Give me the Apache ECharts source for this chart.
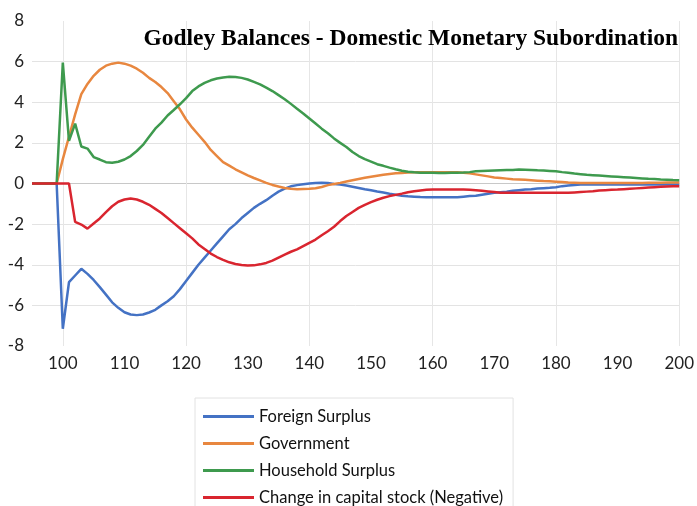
<!DOCTYPE html>
<html>
<head>
<meta charset="utf-8">
<script src="https://cdn.jsdelivr.net/npm/echarts@6/dist/echarts.min.js"></script>
<style>
html,body{margin:0;padding:0;background:#fff;}
#chart{width:697px;height:506px;}
</style>
</head>
<body>
<div id="chart"></div>
<script>
// Periods 95..200
const periodStart = 95;
const periodEnd = 200;
const xTickLabels = [100, 110, 120, 130, 140, 150, 160, 170, 180, 190, 200];
const yTickLabels = [-8, -6, -4, -2, 0, 2, 4, 6, 8];

const seriesNames = ['Foreign Surplus', 'Government', 'Household Surplus', 'Change in capital stock (Negative)'];

// values for periods 95..200 (106 values each)
const foreignSurplus = [
  0, 0, 0, 0, 0,                                   // 95-99
  -7.15, -4.86, -4.53, -4.2, -4.45, -4.75, -5.1, -5.47, -5.85, -6.12, // 100-109
  -6.34, -6.45, -6.48, -6.45, -6.35, -6.22, -6.0, -5.8, -5.55, -5.2,  // 110-119
  -4.8, -4.4, -4.0, -3.65, -3.3, -2.95, -2.6, -2.25, -2.0, -1.7,      // 120-129
  -1.45, -1.2, -1.0, -0.82, -0.6, -0.4, -0.25, -0.14, -0.08, -0.04,   // 130-139
  0, 0.03, 0.04, 0.02, -0.02, -0.05, -0.1, -0.16, -0.22, -0.28,       // 140-149
  -0.33, -0.39, -0.44, -0.5, -0.55, -0.6, -0.63, -0.65, -0.67, -0.68, // 150-159
  -0.68, -0.68, -0.68, -0.68, -0.68, -0.65, -0.62, -0.6, -0.55, -0.5, // 160-169
  -0.46, -0.43, -0.4, -0.36, -0.33, -0.3, -0.28, -0.25, -0.23, -0.21, // 170-179
  -0.18, -0.13, -0.1, -0.07, -0.05, -0.05, -0.05, -0.05, -0.05, -0.05,// 180-189
  -0.05, -0.05, -0.05, -0.05, -0.05, -0.05, -0.05, -0.05, -0.05, -0.05,// 190-199
  -0.05                                            // 200
];
const government = [
  0, 0, 0, 0, 0,
  1.2, 2.3, 3.4, 4.4, 4.9, 5.3, 5.6, 5.8, 5.9, 5.95,
  5.9, 5.8, 5.65, 5.45, 5.2, 5.0, 4.75, 4.45, 4.05, 3.65,
  3.15, 2.75, 2.4, 2.05, 1.65, 1.35, 1.05, 0.88, 0.7, 0.55,
  0.4, 0.27, 0.15, 0.03, -0.07, -0.15, -0.22, -0.26, -0.28, -0.27,
  -0.26, -0.23, -0.17, -0.08, -0.02, 0.03, 0.1, 0.16, 0.22, 0.28,
  0.33, 0.38, 0.43, 0.47, 0.5, 0.52, 0.54, 0.55, 0.56, 0.56,
  0.56, 0.56, 0.56, 0.56, 0.56, 0.53, 0.5, 0.45, 0.4, 0.35,
  0.3, 0.27, 0.24, 0.21, 0.2, 0.18, 0.16, 0.14, 0.12, 0.11,
  0.09, 0.07, 0.05, 0.04, 0.03, 0.03, 0.03, 0.03, 0.03, 0.03,
  0.03, 0.03, 0.03, 0.03, 0.03, 0.04, 0.04, 0.04, 0.05, 0.05,
  0.05
];
const householdSurplus = [
  0, 0, 0, 0, 0,
  5.95, 2.1, 2.95, 1.82, 1.72, 1.3, 1.18, 1.05, 1.02, 1.07,
  1.18, 1.35, 1.6, 1.9, 2.3, 2.7, 3.0, 3.35, 3.62, 3.9,
  4.2, 4.55, 4.78, 4.95, 5.08, 5.17, 5.22, 5.25, 5.24, 5.2,
  5.12, 5.0, 4.88, 4.72, 4.55, 4.35, 4.15, 3.92, 3.68, 3.45,
  3.2, 2.95, 2.7, 2.47, 2.22, 2.0, 1.8, 1.55, 1.35, 1.2,
  1.08, 0.95, 0.87, 0.78, 0.7, 0.63, 0.58, 0.55, 0.53, 0.53,
  0.53, 0.52, 0.52, 0.53, 0.53, 0.54, 0.56, 0.6, 0.62, 0.63,
  0.64, 0.65, 0.66, 0.67, 0.69, 0.68, 0.67, 0.65, 0.64, 0.62,
  0.6, 0.56, 0.53, 0.49, 0.46, 0.43, 0.41, 0.39, 0.37, 0.35,
  0.33, 0.31, 0.29, 0.27, 0.25, 0.23, 0.22, 0.2, 0.19, 0.17,
  0.16
];
const capitalStockChange = [
  0, 0, 0, 0, 0,
  0, 0, -1.89, -2.02, -2.22, -1.97, -1.72, -1.41, -1.12, -0.9,
  -0.79, -0.74, -0.79, -0.9, -1.05, -1.25, -1.45, -1.7, -1.95, -2.2,
  -2.45, -2.7, -3.0, -3.22, -3.45, -3.62, -3.76, -3.88, -3.96, -4.01,
  -4.04, -4.03, -3.98, -3.91, -3.8, -3.65, -3.5, -3.36, -3.24, -3.08,
  -2.92, -2.76, -2.55, -2.35, -2.13, -1.85, -1.6, -1.4, -1.2, -1.05,
  -0.92, -0.8, -0.7, -0.62, -0.56, -0.5, -0.43, -0.38, -0.34, -0.31,
  -0.3, -0.3, -0.3, -0.3, -0.3, -0.3, -0.31, -0.33, -0.36, -0.39,
  -0.42, -0.45, -0.46, -0.46, -0.46, -0.46, -0.46, -0.46, -0.46, -0.46,
  -0.46, -0.46, -0.46, -0.44, -0.42, -0.4, -0.38, -0.35, -0.33, -0.31,
  -0.3, -0.28, -0.26, -0.24, -0.22, -0.2, -0.18, -0.16, -0.15, -0.14,
  -0.13
];

const colors = ['#4472C4', '#E8873F', '#3E9A4E', '#D9252F'];
const allValues = [foreignSurplus, government, householdSurplus, capitalStockChange];

function toPairs(vals) {
  return vals.map((v, i) => [periodStart + i, v]);
}

const chart = echarts.init(document.getElementById('chart'), null, {renderer: 'canvas'});
const font = 'Lato, "Noto Sans", sans-serif';

// vertical grid lines every 20 (ticks every 5 from 95)
const vGridColors = ['rgba(0,0,0,0)', '#e6e6e6', 'rgba(0,0,0,0)', 'rgba(0,0,0,0)'];
// horizontal grid lines: hide -8 and 8, zero line darker
const hGridColors = yTickLabels.map(v => (v === 0 ? '#c8c8c8' : (Math.abs(v) === 8 ? 'rgba(0,0,0,0)' : '#e3e3e3')));

chart.setOption({
  animation: false,
  backgroundColor: '#fff',
  title: {
    text: 'Godley Balances - Domestic Monetary Subordination',
    right: 14,
    top: 22,
    textStyle: {
      fontFamily: '"Liberation Serif", "DejaVu Serif", serif',
      fontWeight: 'bold',
      fontSize: 23.5,
      color: '#000'
    }
  },
  grid: {left: 32, right: 17, top: 21, bottom: 160, containLabel: false},
  xAxis: {
    type: 'value',
    min: periodStart,
    max: periodEnd,
    interval: 5,
    axisLine: {show: false, onZero: false},
    axisTick: {show: false},
    axisLabel: {
      fontFamily: font,
      fontSize: 17,
      color: '#222',
      margin: 9,
      showMinLabel: true,
      showMaxLabel: true,
      formatter: v => (xTickLabels.indexOf(v) >= 0 ? String(v) : '')
    },
    splitLine: {show: true, lineStyle: {color: vGridColors, width: 1}}
  },
  yAxis: {
    type: 'value',
    min: -8,
    max: 8,
    interval: 2,
    axisLine: {show: false},
    axisTick: {show: false},
    axisLabel: {
      fontFamily: font,
      fontSize: 17,
      color: '#222',
      margin: 8
    },
    splitLine: {show: true, lineStyle: {color: hGridColors, width: 1}}
  },
  legend: {
    orient: 'vertical',
    left: 195,
    top: 398,
    height: 150,
    padding: [10, 10, 14, 8],
    borderColor: '#e2e2e2',
    borderWidth: 1,
    itemWidth: 51,
    itemHeight: 3,
    itemGap: 10,
    icon: 'rect',
    textStyle: {fontFamily: font, fontSize: 16.5, color: '#111', lineHeight: 16.5},
    data: seriesNames
  },
  series: seriesNames.map((name, k) => ({
    name: name,
    type: 'line',
    data: toPairs(allValues[k]),
    showSymbol: false,
    symbol: 'none',
    lineStyle: {color: colors[k], width: 2.5},
    itemStyle: {color: colors[k]},
    z: 2 + k
  }))
});
</script>
</body>
</html>
